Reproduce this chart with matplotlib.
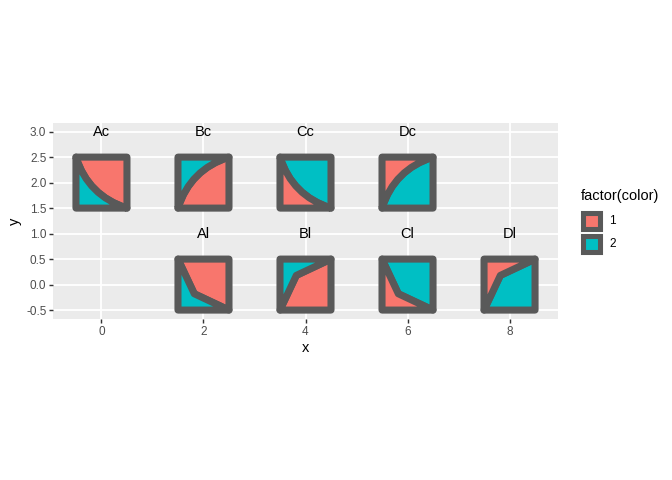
import matplotlib
matplotlib.use('Agg')
import matplotlib.pyplot as plt
from matplotlib.path import Path
from matplotlib.patches import PathPatch, Rectangle

plt.rcParams['font.family'] = ['Liberation Sans', 'DejaVu Sans']

# squares: label, centre, shape type and which fill goes to the small corner piece
labels = ['Ac', 'Bc', 'Cc', 'Dc', 'Al', 'Bl', 'Cl', 'Dl']
centre_x = [0, 2, 4, 6, 2, 4, 6, 8]
centre_y = [2, 2, 2, 2, 0, 0, 0, 0]
label_y = [3, 3, 3, 3, 1, 1, 1, 1]
direction = ['down', 'up', 'down', 'up', 'down', 'up', 'down', 'up']
small_fill = [2, 2, 1, 1, 2, 2, 1, 1]
curved = [True, True, True, True, False, False, False, False]

# bend point of the divider (offset from the square's centre, for the 'down' case)
kink = (-0.18, -0.18)
ctrl = (-0.26, -0.26)

fills = {1: '#F8766D', 2: '#00BFC4'}
legend_levels = ['1', '2']
border = '#595959'

fig = plt.figure(figsize=(7, 5), dpi=96)
W, H = 672, 480

def fx(px):
    return px / W

def fy(py):
    return 1 - py / H

ax = fig.add_axes([fx(53), fy(319), (558 - 53) / W, (319 - 122.7) / H])
ax.set_facecolor('#EBEBEB')
ax.set_xlim(-0.95, 8.95)
ax.set_ylim(-0.675, 3.175)
for s in ax.spines.values():
    s.set_visible(False)
ax.set_xticks([0, 2, 4, 6, 8])
ax.set_yticks([-0.5, 0, 0.5, 1, 1.5, 2, 2.5, 3])
ax.set_yticklabels(['-0.5', '0.0', '0.5', '1.0', '1.5', '2.0', '2.5', '3.0'])
ax.grid(True, color='white', linewidth=1.4)
ax.set_axisbelow(True)
ax.tick_params(length=2.75, width=1.07, color='#333333', labelcolor='#4D4D4D',
               labelsize=8.8, pad=2.2)
ax.set_xlabel('x', fontsize=11, labelpad=2.5)
ax.set_ylabel('y', fontsize=11, labelpad=3)


def piece_paths(cx, cy, d, is_curve):
    # returns (small piece, big piece) as Paths
    sgn = 1 if d == 'down' else -1
    # corners in local coords, for 'down': divider goes top-left -> bottom-right
    tl = (cx - 0.5, cy + 0.5 * sgn)
    br = (cx + 0.5, cy - 0.5 * sgn)
    bl = (cx - 0.5, cy - 0.5 * sgn)
    tr = (cx + 0.5, cy + 0.5 * sgn)
    if is_curve:
        mid = (cx + ctrl[0], cy + ctrl[1] * sgn)
        mid_code = Path.CURVE3
    else:
        mid = (cx + kink[0], cy + kink[1] * sgn)
        mid_code = Path.LINETO
    small = Path([tl, mid, br, bl, tl],
                 [Path.MOVETO, mid_code, mid_code if is_curve else Path.LINETO,
                  Path.LINETO, Path.CLOSEPOLY])
    big = Path([tl, mid, br, tr, tl],
               [Path.MOVETO, mid_code, mid_code if is_curve else Path.LINETO,
                Path.LINETO, Path.CLOSEPOLY])
    return small, big


for i in range(len(labels)):
    small, big = piece_paths(centre_x[i], centre_y[i], direction[i], curved[i])
    sf = small_fill[i]
    bf = 2 if sf == 1 else 1
    for p, f in [(big, bf), (small, sf)]:
        ax.add_patch(PathPatch(p, facecolor=fills[f], edgecolor=border,
                               linewidth=5.3, joinstyle='round', capstyle='round'))
    ax.text(centre_x[i], label_y[i], labels[i], ha='center', va='center', fontsize=11)

# legend
fig.text(fx(580.5), fy(196), 'factor(color)', fontsize=11, ha='left', va='center')
for j, lev in enumerate(legend_levels):
    ky = 221 + 23 * j
    fig.add_artist(Rectangle((fx(583.3), fy(ky + 8.2)), 16.4 / W, 16.4 / H,
                             transform=fig.transFigure, facecolor=fills[int(lev)],
                             edgecolor=border, linewidth=3.8, joinstyle='miter'))
    fig.text(fx(609), fy(ky), lev, fontsize=8.8, ha='left', va='center')

fig.savefig('out.png', dpi=96)
